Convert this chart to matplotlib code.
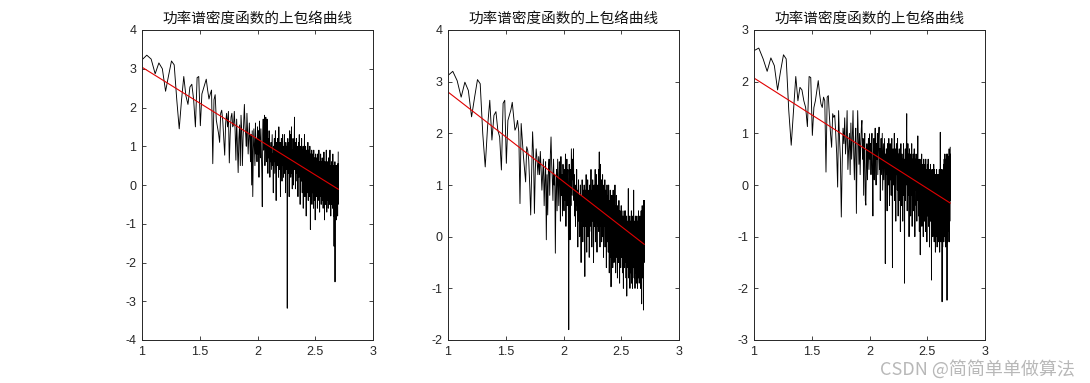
import numpy as np
import matplotlib
matplotlib.use("Agg")
import matplotlib.pyplot as plt

# ---------------- data ----------------
freq_start = 10
freq_end = 500
title_text = "功率谱密度函数的上包络曲线"
watermark = "CSDN @简简单单做算法"

x_ticks = [1, 1.5, 2, 2.5, 3]
ylims = [(-4, 4), (-2, 4), (-3, 3)]

# fitted straight line (intercept, slope)
fit_coef = [(4.893, -1.853), (4.535, -1.735), (3.494, -1.424)]

env1 = [
    3.23, 3.35, 3.25, 2.87, 3.15, 3.0, 2.42, 2.83, 3.2, 3.1,
    2.2, 1.45, 2.2, 2.8, 2.3, 2.08, 2.53, 2.6, 2.2, 1.5,
    2.77, 2.8, 1.53, 2.35, 2.48, 2.6, 2.73, 2.45, 2.22, 2.35,
    2.45, 0.55, 2.2, 2.33, 1.67, 1.5, 1.33, 1.1, 1.85, 1.93, 1.67,
    1.2, 0.77, 1.6, 1.85, 1.5, 1.9, 0.57, 1.3, 1.75, 1.85,
    1.5, 1.55, 1.9, 1.4, 0.64, 1.7, 1.0, 0.32, 1.2, 1.55,
    0.5, 1.8, 1.4, 0.5, 1.2, 1.65, 2.08, 1.5, 1.3, 1.0,
    1.85, 1.4, 0.8, 1.2, 1.6, 1.1, 0.6, 1.3, 0.0, 1.4,
    -0.3, 0.9, 1.45, 1.0, 0.5, 1.6, 0.8, 1.2, 0.6, 1.5,
    0.8, 1.4, 0.2, 1.65, 1.1, 0.7, 1.45, 0.9, 0.3, -0.56,
    1.3, 1.7, 0.9, 1.2, 1.8, 0.5, 1.0, 1.75, 1.3, 0.6,
    1.7, 1.1, 0.3, 1.2, 0.7, 1.4, 0.9, 0.2, 1.0, 0.6,
    1.1, 0.4, 0.9, 1.3, 0.5, 0.8, -0.2, 1.0, 0.6, 1.2,
    0.3, 0.9, 1.4, 0.7, -0.4, 0.8, 1.1, 0.5, 1.2, 0.6,
    0.9, 0.2, 1.5, 0.7, 1.0, 0.4, 1.1, -0.3, 0.8, 0.5,
    1.2, 0.6, 0.1, 0.9, 1.3, 0.5, 0.8, 0.2, 1.0, 0.6,
    1.3, 0.3, 0.9, 0.5, -0.2, 1.1, 0.7, 0.4, 1.0, 0.8,
    -3.18, 0.6, 1.2, 0.3, 0.9, 0.5, 1.1, -0.3, 0.7, 1.4,
    0.4, 0.8, 1.3, 0.2, 1.0, 0.6, 1.5, 0.3, 0.8, -0.1,
    0.9, 0.4, 1.2, 0.6, 0.0, 1.0, 0.5, 1.3, 1.75, 0.4,
    0.7, 1.1, -0.1, 0.6, 0.9, 0.3, 1.2, 0.5, 0.8, 0.1,
    1.0, 0.4, 0.7, -0.3, 0.9, 0.5, 1.1, 0.2, 0.6, 1.3,
    0.3, 0.8, 0.5, -0.5, 0.9, 0.4, 1.0, 0.6, 0.1, 0.7,
    1.2, 0.2, 0.8, -0.2, 0.5, 0.9, 0.3, 1.0, -0.6, 0.6,
    0.3, 0.9, 0.1, 0.7, 1.3, 0.4, -0.3, 0.8, 0.2, 0.6,
    1.0, 0.0, 0.5, -0.8, 0.7, 0.3, 0.9, 0.1, 0.6, -0.2,
    0.8, 0.4, 1.1, 0.2, -0.4, 0.6, 0.3, 0.9, 0.0, 0.5,
    0.7, -0.3, 0.4, 1.0, 0.1, 0.6, -1.15, 0.3, 0.8, 0.2,
    0.5, -0.1, 0.7, 0.3, 0.9, -0.5, 0.4, 0.1, 0.6, 0.2,
    0.8, -0.2, 0.3, 0.6, -0.6, 0.4, 0.9, 0.0, 0.5, 0.2,
    0.7, -0.4, 0.3, 0.6, 0.1, -0.9, 0.5, 0.2, 0.8, -0.1,
    0.4, 0.1, 0.6, -0.3, 0.3, 0.7, -0.2, 0.2, 0.5, -0.6,
    0.3, 0.8, 0.0, 0.4, -0.4, 0.2, 0.6, -0.1, 0.3, 0.9,
    -0.2, 0.4, 0.1, 0.6, -0.7, 0.3, 0.0, 0.5, 0.2, -0.3,
    0.4, 0.8, -0.1, 0.2, 0.5, -0.5, 0.3, 0.0, 0.6, 0.1,
    -0.4, 0.3, 0.7, 0.0, 0.2, -0.2, 0.5, 0.1, 0.4, -0.6,
    0.2, 0.6, -0.1, 0.3, 0.0, 0.85, -0.3, 0.2, 0.5, -0.9,
    0.1, 0.4, -0.2, 0.3, 0.6, 0.0, 0.2, -0.5, 0.4, 0.1,
    0.5, -0.3, 0.2, 0.9, -0.1, 0.3, 0.0, -0.7, 0.4, 0.1,
    -0.2, 0.3, 0.6, -0.4, 0.2, 0.0, 0.5, -0.1, 0.3, -0.6,
    0.2, 0.7, -0.3, 0.1, 0.4, -0.2, 0.0, 0.5, -0.5, 0.2,
    0.4, -0.1, 0.3, 0.9, -0.4, 0.1, 0.3, -0.2, 0.5, 0.0,
    -0.8, 0.2, 0.4, -0.1, 0.3, 0.0, 0.6, -0.3, 0.2, -0.5,
    0.3, 0.1, -0.2, 0.5, 0.0, 0.3, -0.6, 0.2, 0.8, -0.1,
    0.4, -0.3, 0.1, 0.3, -0.8, 0.2, 0.5, -0.2, 0.1, -1.58,
    0.3, -0.4, 0.2, 0.0, 0.4, -0.5, 0.1, 0.6, -2.5, 0.2,
    -0.3, 0.5, 0.0, 0.3, -0.7, 0.2, 0.4, -0.2, 0.1, 0.5,
    -0.9, 0.2, 0.4, 0.0, 0.5, -0.4, 0.3, 0.1, -0.6, 0.4,
    0.2, -0.2, 0.5, -0.8, 0.3, 0.0, 0.55, -0.5, 0.1, 0.85,
]

env2 = [
    3.12, 3.2, 3.02, 2.7, 2.99, 2.83, 2.32, 2.7, 3.04, 2.96,
    1.99, 1.35, 2.12, 2.64, 1.87, 2.35, 2.42, 2.06, 1.93, 1.29,
    2.58, 2.64, 1.42, 2.25, 2.35, 2.45, 2.6, 2.32, 2.06, 2.12,
    2.25, 2.03, 0.64, 2.19, 1.87, 1.55, 1.29, 1.06, 1.74, 1.67, 1.48,
    1.0, 0.42, 1.2, 2.03, 1.6, 0.45, 1.3, 1.7, 1.5, 1.2,
    1.55, 1.2, 1.65, 1.3, 0.9, 1.22, 1.5, 0.6, 1.1, 1.45,
    -0.06, 1.2, 0.42, 1.3, 1.5, 0.8, 1.6, 1.93, 1.4, 1.1,
    0.7, 1.5, 1.0, 1.2, -0.32, 0.9, 1.3, 0.5, 1.5, 1.0,
    0.6, 1.45, 1.1, 0.3, 1.55, 0.8, 1.2, 0.4, 1.4, 1.0,
    0.5, 1.3, 0.7, 1.6, 0.2, 1.1, 1.5, 0.6, 1.3, 0.9,
    -1.8, 1.4, 1.0, -0.06, 1.3, 0.6, 1.7, 1.2, 0.8, 1.5,
    1.1, 1.7, 0.7, 1.2, 0.4, 0.9, 0.2, 1.0, 0.6, 1.3,
    0.5, 0.9, -0.2, 0.7, 1.1, 0.3, 0.8, 0.0, 0.6, 1.0,
    0.4, -0.5, 0.8, 0.3, 1.1, 0.6, -0.1, 0.9, 0.2, 0.7,
    1.0, 0.3, -0.77, 0.6, 0.9, 0.2, 1.2, 0.5, -0.3, 0.8,
    0.4, 1.1, 0.0, 0.7, 0.3, 0.9, -0.4, 0.6, 1.0, 0.2,
    0.8, 0.4, 1.3, 0.1, 0.6, -0.2, 0.9, 0.5, 1.1, 0.3,
    0.7, -0.5, 0.4, 1.0, 0.2, 0.8, 0.5, 1.3, -0.1, 0.6,
    0.9, 0.3, 1.2, 0.5, -0.3, 0.8, 0.4, 1.0, 0.2, 0.7,
    1.3, 0.1, 0.6, 1.64, 0.4, 0.9, -0.2, 0.7, 1.4, 0.3,
    0.8, 0.2, 1.1, -0.1, 0.6, 0.9, 0.3, 1.2, 0.0, 0.5,
    0.8, -0.4, 0.5, 1.0, 0.2, 0.7, 0.4, 1.1, -0.2, 0.6,
    0.3, 0.9, 0.0, 0.5, -0.6, 0.7, 0.2, 1.0, 0.4, -0.1,
    0.6, 0.2, 0.8, -0.3, 0.4, 1.0, 0.1, 0.5, -0.7, 0.3,
    0.7, 0.0, 0.4, 0.9, -0.4, 0.3, 0.6, -0.97, 0.2, 0.5,
    0.1, 0.8, -0.2, 0.4, 0.0, 0.6, -0.6, 0.3, 0.9, -0.1,
    0.4, 0.1, 0.7, -0.5, 0.2, 0.5, -0.1, 0.3, 1.0, -0.3,
    0.2, 0.6, -0.7, 0.1, 0.4, -0.2, 0.8, 0.0, 0.3, -0.4,
    0.5, 0.1, -0.8, 0.3, 0.6, -0.1, 0.2, 0.4, -0.5, 0.0,
    0.3, 0.7, -0.3, 0.1, 0.4, -0.9, 0.2, 0.5, 0.0, -0.2,
    0.4, 0.1, -0.6, 0.3, 0.0, 0.6, -0.4, 0.2, -0.1, 0.5,
    -0.3, 0.1, 0.3, -0.7, 0.2, 0.0, 0.4, -0.2, 0.1, -1.0,
    0.3, 0.0, -0.4, 0.2, 0.5, -0.1, 0.1, -0.6, 0.3, 0.0,
    -0.3, 0.2, 0.5, -0.5, 0.1, -0.1, 0.3, -0.8, 0.0, 0.2,
    -0.2, 0.4, -1.15, 0.1, -0.3, 0.2, 0.0, -0.5, 0.3, -0.1,
    0.2, -0.6, 0.0, 0.93, -0.3, 0.1, -0.8, 0.2, -0.2, 0.0,
    0.3, -0.5, 0.1, -0.1, 0.4, -1.0, 0.0, 0.2, -0.4, 0.1,
    -0.2, 0.3, -0.7, 0.0, 0.2, -0.3, 0.5, -0.9, 0.1, -0.1,
    0.2, -0.5, 0.0, 0.3, -0.2, -1.0, 0.1, 0.4, -0.4, 0.0,
    0.2, -0.6, 0.1, -0.2, 0.9, -0.3, 0.0, 0.2, -0.8, 0.1,
    -0.1, 0.3, -0.5, 0.0, 0.2, -1.0, 0.1, -0.3, 0.4, -0.2,
    0.0, -0.7, 0.2, -0.1, 0.3, -0.5, 0.1, -0.9, 0.0, 0.2,
    -0.3, 0.4, -0.6, 0.0, 0.2, -0.2, -1.0, 0.1, 0.3, -0.4,
    0.0, 0.2, -0.8, 0.1, -0.1, 0.5, -0.5, 0.0, 0.2, -0.3,
    0.1, -0.9, 0.0, 0.3, -0.4, 0.1, -0.2, 0.4, -0.7, 0.0,
    0.2, -0.3, 0.1, -1.0, 0.0, 0.3, -0.5, 0.1, -0.2, 0.5,
    -0.6, 0.0, 0.2, -0.3, -1.3, 0.1, 0.3, -0.4, 0.0, 0.6,
    -0.2, 0.1, -0.8, 0.2, 0.0, -0.5, 0.3, -0.1, 0.5, -0.6,
    0.0, 0.3, -1.42, 0.1, -0.4, 0.7, -0.2, 0.2, -0.5, 0.7,
]

env3 = [
    2.6, 2.65, 2.44, 2.2, 2.46, 2.31, 1.84, 2.21, 2.52, 2.44,
    1.44, 0.77, 1.44, 2.1, 1.63, 1.89, 1.84, 1.63, 1.5, 1.13,
    2.1, 2.08, 0.96, 1.5, 1.63, 1.83, 2.02, 1.76, 1.57, 1.5,
    1.7, 1.63, 0.25, 1.7, 1.73, 1.31, 0.99, 0.73, 1.38, 1.31, 1.35,
    1.0, 0.6, -0.04, 1.44, 0.9, 0.5, -0.62, 0.4, 1.1, 0.8,
    1.3, 0.6, 0.9, 1.44, 0.3, 0.7, 1.0, 0.2, 1.2, 0.5,
    0.9, 1.44, 0.6, 0.1, 0.8, 1.1, -0.55, 0.6, 1.44, 0.9,
    0.4, 1.0, 0.2, 0.8, 1.1, 1.25, 0.5, 0.9, -0.2, 0.6,
    1.0, -0.3, -0.39, 0.4, 0.8, 0.1, 0.6, 0.9, 0.3, 0.99,
    0.5, 0.8, 0.2, 0.7, 1.0, 0.3, -0.6, 0.6, 0.9, 0.1,
    0.7, 1.1, 0.4, 0.0, 0.8, 0.5, 1.0, 0.2, 0.6, 0.9,
    1.12, 0.3, 0.7, -0.3, 0.5, 0.9, 0.2, 0.6, 1.0, -0.1,
    0.4, 0.8, 0.1, 0.5, 0.9, 0.3, -1.52, 0.6, 0.2, 0.7,
    0.4, -0.5, 0.8, 0.2, 0.6, 0.0, 0.9, 0.3, -0.4, 0.5,
    0.8, 0.1, 0.6, -0.2, 0.4, 0.9, 0.2, -1.6, 0.5, 0.7,
    0.0, 0.6, 0.3, 1.0, -0.3, 0.4, 0.7, 0.1, -0.7, 0.5,
    0.8, 0.2, 0.5, -0.1, 0.9, 0.3, -0.6, 0.6, 0.1, 0.4,
    0.7, -0.3, 0.2, 0.5, -0.9, 0.3, 0.8, 0.0, 0.4, -0.4,
    0.6, 0.1, 0.3, -0.7, 0.5, 0.2, 0.8, -0.2, 0.4, 0.1,
    -1.9, 0.5, 0.2, 0.7, -0.3, 0.4, 0.0, 0.6, 0.9, 1.38,
    0.3, -0.5, 0.5, 0.1, 0.8, -0.2, 0.4, 0.0, 0.6, -1.0,
    0.3, 0.7, -0.1, 0.4, 0.0, 0.6, -0.6, 0.2, 0.5, -0.2,
    0.4, 0.8, 0.0, -0.8, 0.3, 0.5, -0.3, 0.2, 0.6, 0.0,
    -0.5, 0.3, 0.1, 0.7, -0.2, 0.4, -1.0, 0.2, 0.5, -0.1,
    0.3, 0.0, 0.6, -0.4, 0.2, 0.5, -0.7, 0.1, 0.4, -0.2,
    0.3, 0.95, -0.3, 0.1, 0.4, -0.6, 0.2, 0.0, 0.5, -0.9,
    0.2, -0.1, 0.4, 0.0, -1.35, 0.3, 0.1, -0.4, 0.5, 0.0,
    -0.3, 0.2, 0.6, -0.8, 0.1, 0.3, -0.2, 0.4, -0.5, 0.0,
    0.2, -1.0, 0.3, 0.0, 0.5, -0.4, 0.1, -0.2, 0.3, -0.7,
    0.0, 0.4, -0.3, 0.1, -0.9, 0.2, 0.5, -0.1, 0.0, -0.5,
    0.3, -0.2, 0.1, -1.1, 0.2, 0.0, 0.4, -0.4, 0.1, -0.6,
    0.2, 0.5, -0.3, 0.0, -0.8, 0.3, -0.1, 0.2, -0.5, 0.1,
    -1.2, 0.0, 0.3, -0.4, 0.1, -0.2, 0.4, -0.7, 0.0, 0.2,
    -0.3, 0.1, -0.6, -1.84, 0.2, -0.1, 0.3, -0.9, 0.0, 0.2,
    -0.4, 0.1, -1.0, 0.3, -0.2, 0.0, -0.7, 0.2, -0.3, 0.4,
    -0.5, 0.0, -1.1, 0.1, -0.2, 0.3, -0.8, 0.0, 0.2, -0.4,
    -0.1, -1.3, 0.1, -0.3, 0.2, -0.6, 0.0, -1.0, 0.1, -0.2,
    0.3, -0.7, -0.1, 0.1, -1.2, 0.0, -0.4, 0.2, -0.9, -0.1,
    0.1, -0.5, -1.1, 0.0, 0.2, -0.3, -0.8, 0.1, -0.2, -1.0,
    0.0, 0.3, -0.6, -0.1, -1.3, 0.2, -0.4, 0.0, -0.9, 1.02,
    -0.2, -0.8, 0.1, -0.3, -1.1, 0.2, -0.5, 0.0, -0.7, 0.3,
    -0.4, -1.0, 0.0, -0.2, -2.26, 0.1, -0.6, 0.2, -0.3, -1.2,
    0.0, 0.3, -0.5, -0.9, 0.1, -0.2, 0.4, -0.7, 0.0, -1.1,
    0.2, -0.3, 0.5, -0.6, -0.1, 0.3, -1.0, 0.0, 0.6, -0.4,
    0.1, -0.8, 0.4, -0.2, 0.0, -1.2, 0.3, -0.5, 0.5, -0.1,
    -0.7, 0.2, 0.6, -0.3, 0.0, -1.0, 0.4, -0.5, -2.23, 0.1,
    0.5, -0.2, 0.6, -0.8, 0.2, -0.4, 0.3, -1.1, 0.0, 0.55,
    -0.3, 0.2, -0.9, 0.4, -0.1, 0.3, -0.6, 0.1, 0.7, -0.4,
    0.2, -1.1, 0.5, -0.2, 0.3, -0.7, 0.1, 0.6, -0.3, 0.73,
]

series = [env1, env2, env3]

# ---------------- plotting ----------------
plt.rcParams['font.family'] = ['Liberation Sans', 'DejaVu Sans']
plt.rcParams['axes.unicode_minus'] = False
W, H, DPI = 1090, 383, 100
fig = plt.figure(figsize=(W / DPI, H / DPI), dpi=DPI)

freqs = np.arange(freq_start, freq_end + 1)
logf = np.log10(freqs)

lefts = [142, 448, 754]
ax_w, ax_top, ax_bot = 231, 30, 340
axis_col = '#262626'

for i, (env, (lo, hi), (b0, b1)) in enumerate(zip(series, ylims, fit_coef)):
    ax = fig.add_axes([lefts[i] / W, (H - ax_bot) / H, ax_w / W, (ax_bot - ax_top) / H])
    xs = logf[:len(env)]
    ax.plot(xs, env, color='black', lw=0.65)
    xf = np.array([xs[0], xs[-1]])
    ax.plot(xf, b0 + b1 * xf, color='#e00000', lw=0.8)
    ax.set_xlim(1, 3)
    ax.set_ylim(lo, hi)
    ax.set_xticks(x_ticks)
    ax.set_xticklabels([f"{t:g}" for t in x_ticks])
    ax.set_yticks(np.arange(lo, hi + 1))
    ax.tick_params(direction='in', top=True, right=True, length=3, width=0.6,
                   labelsize=9, colors=axis_col, pad=4)
    for s in ax.spines.values():
        s.set_color(axis_col)
        s.set_linewidth(0.7)
    ax.set_title(title_text, fontsize=10.5, family=['Noto Sans CJK SC'],
                 color='#111111', pad=5)

fig.text(0.9865, 0.036, watermark, ha='right', va='center', fontsize=13,
         color='#b8b8b8', family=['Noto Sans CJK SC', 'DejaVu Sans'])

fig.savefig('out.png', dpi=DPI)
